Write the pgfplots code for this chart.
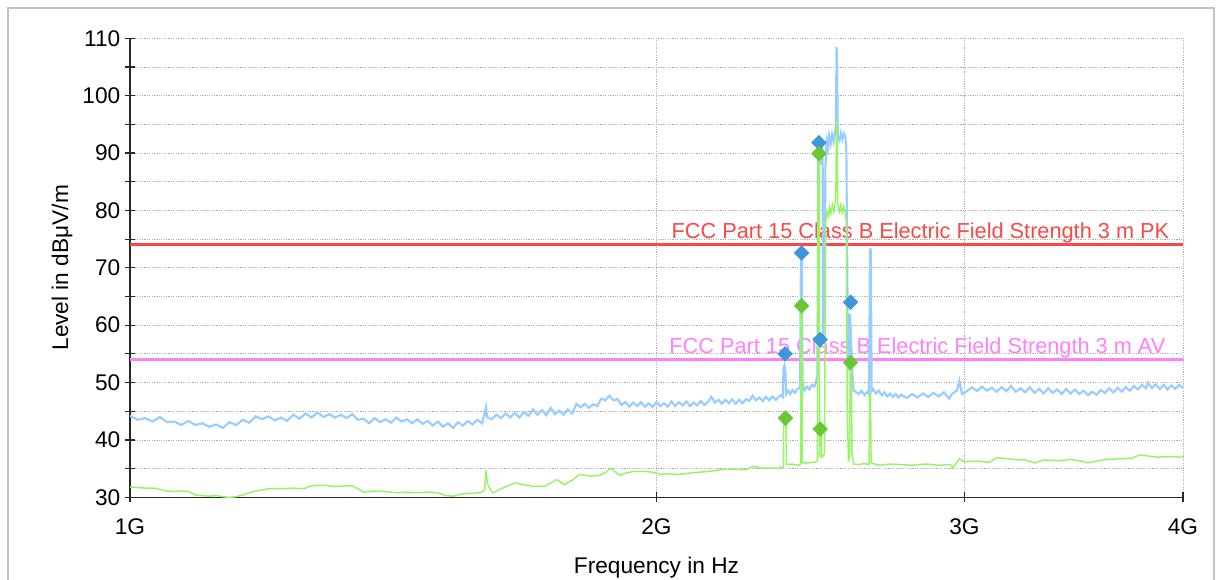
\documentclass[border=0pt]{standalone}
\usepackage{pgfplots}
\pgfplotsset{compat=1.18}
\usepackage{fontspec}
\setmainfont{Liberation Sans}
\definecolor{pkline}{RGB}{153,204,255}
\definecolor{avline}{RGB}{150,245,100}
\definecolor{pkmark}{RGB}{63,150,220}
\definecolor{avmark}{RGB}{102,200,51}
\definecolor{limpk}{RGB}{255,70,70}
\definecolor{limav}{RGB}{255,128,255}
\definecolor{gridc}{RGB}{175,175,175}
\definecolor{framec}{RGB}{195,195,195}
\definecolor{axc}{RGB}{40,40,40}

\pgfplotstableread{
f lev
1.00 44.2
1.01 43.5
1.02 43.8
1.03 43.2
1.04 44.0
1.05 43.1
1.06 43.2
1.07 42.6
1.08 43.3
1.09 42.6
1.10 42.9
1.11 42.3
1.12 42.7
1.13 42.1
1.14 43.1
1.15 42.6
1.16 43.5
1.17 43.0
1.18 44.1
1.19 43.6
1.20 44.1
1.21 43.4
1.22 43.9
1.23 43.3
1.24 44.4
1.25 43.7
1.26 44.6
1.27 43.9
1.28 44.8
1.29 44.0
1.30 44.5
1.31 43.9
1.32 44.4
1.33 43.8
1.34 44.5
1.35 43.5
1.36 43.7
1.37 42.9
1.38 43.8
1.39 43.1
1.40 43.6
1.41 43.0
1.42 43.9
1.43 43.2
1.44 43.6
1.45 42.9
1.46 43.6
1.47 42.8
1.48 43.3
1.49 42.5
1.50 43.2
1.51 42.3
1.52 42.9
1.53 42.1
1.54 43.1
1.55 42.5
1.56 43.3
1.57 42.7
1.58 43.5
1.59 42.9
1.598 45.7
1.60 44.0
1.61 43.6
1.62 44.4
1.63 43.8
1.64 44.6
1.65 43.9
1.66 44.7
1.67 43.9
1.68 44.9
1.69 44.2
1.70 45.3
1.71 44.4
1.72 45.2
1.73 44.3
1.74 45.6
1.75 44.5
1.76 45.1
1.77 44.4
1.78 45.3
1.79 44.6
1.80 46.3
1.81 45.7
1.82 46.3
1.83 45.6
1.84 46.2
1.85 45.9
1.86 47.2
1.87 46.9
1.88 47.7
1.89 46.9
1.90 47.1
1.91 46.1
1.92 46.6
1.93 45.8
1.94 46.5
1.95 45.9
1.96 46.6
1.97 45.8
1.98 46.4
1.99 45.7
2.00 46.6
2.01 45.9
2.02 46.4
2.03 45.8
2.04 46.7
2.05 45.9
2.06 46.6
2.07 46.0
2.08 46.7
2.09 45.9
2.10 46.5
2.11 46.0
2.12 46.8
2.13 46.1
2.14 46.6
2.15 47.5
2.16 46.5
2.17 47.0
2.18 46.3
2.19 47.0
2.20 46.4
2.21 47.1
2.22 46.3
2.23 47.0
2.24 46.4
2.25 47.1
2.26 46.8
2.27 47.7
2.28 46.9
2.29 47.4
2.30 46.8
2.31 47.5
2.32 46.9
2.33 47.6
2.34 47.0
2.355 47.8
2.362 47.5
2.364 52.5
2.367 53.0
2.370 52.0
2.372 48.0
2.378 48.6
2.385 48.0
2.392 48.7
2.400 48.2
2.408 48.9
2.416 49.0
2.419 72.6
2.422 72.0
2.424 50.0
2.430 48.6
2.438 49.3
2.446 48.8
2.454 49.6
2.462 49.3
2.468 50.2
2.472 51.5
2.475 91.8
2.481 91.6
2.483 88.0
2.486 91.0
2.489 90.5
2.491 58.0
2.495 62.0
2.498 87.5
2.502 92.0
2.506 90.8
2.510 93.0
2.515 91.6
2.520 93.2
2.525 92.0
2.530 93.6
2.533 95.0
2.535 108.5
2.537 106.0
2.539 93.0
2.545 92.2
2.550 93.5
2.555 92.4
2.560 93.4
2.565 92.6
2.568 90.0
2.571 70.0
2.574 52.0
2.577 53.5
2.580 62.0
2.583 59.0
2.586 55.0
2.589 50.5
2.593 48.6
2.597 48.5
2.61 48.0
2.62 48.6
2.63 47.8
2.64 48.4
2.646 48.0
2.649 73.2
2.652 73.2
2.655 48.5
2.66 48.9
2.67 48.1
2.68 48.6
2.69 47.8
2.70 48.3
2.71 47.6
2.72 48.1
2.73 47.5
2.74 48.0
2.75 47.4
2.76 47.9
2.78 47.3
2.80 48.0
2.82 47.4
2.84 48.1
2.86 47.5
2.88 48.2
2.90 47.6
2.92 48.3
2.94 47.2
2.95 48.0
2.97 48.6
2.98 50.3
2.99 48.0
3.01 48.5
3.03 49.2
3.05 48.5
3.07 49.3
3.09 48.6
3.11 49.1
3.13 48.4
3.15 49.2
3.17 48.5
3.19 49.4
3.21 48.4
3.23 49.0
3.25 48.3
3.27 49.2
3.29 48.2
3.31 48.9
3.33 48.1
3.35 49.0
3.37 48.2
3.39 48.8
3.41 48.0
3.43 48.9
3.45 48.1
3.47 48.8
3.49 48.0
3.51 48.6
3.53 47.8
3.55 48.4
3.57 47.9
3.59 48.7
3.61 48.2
3.63 49.0
3.65 48.3
3.67 49.1
3.69 48.4
3.71 49.2
3.73 48.6
3.75 49.4
3.77 48.8
3.79 49.6
3.81 49.0
3.82 50.0
3.84 49.0
3.86 49.7
3.88 48.9
3.90 49.6
3.92 48.8
3.94 49.5
3.96 48.9
3.98 49.6
4.00 49.1
}\pktrace

\pgfplotstableread{
f lev
1.00 31.8
1.01 31.7
1.02 31.6
1.03 31.6
1.04 31.4
1.05 31.1
1.06 31.0
1.07 31.1
1.08 31.0
1.09 30.4
1.10 30.3
1.11 30.2
1.12 30.3
1.13 30.1
1.14 30.0
1.15 30.1
1.16 30.4
1.17 30.8
1.18 31.1
1.19 31.3
1.20 31.5
1.22 31.5
1.24 31.6
1.257 31.5
1.27 32.0
1.29 32.1
1.31 31.9
1.33 32.0
1.34 32.0
1.35 31.5
1.36 30.9
1.38 31.1
1.40 31.0
1.42 30.8
1.44 30.9
1.46 30.8
1.48 30.9
1.50 30.8
1.515 30.3
1.53 30.2
1.55 30.6
1.57 30.7
1.585 30.8
1.595 31.2
1.598 34.7
1.601 32.4
1.608 31.2
1.613 30.8
1.63 31.5
1.66 32.5
1.68 32.2
1.70 31.9
1.727 31.9
1.74 32.5
1.754 33.1
1.772 32.2
1.79 33.0
1.808 34.0
1.83 33.7
1.855 33.8
1.87 34.3
1.883 35.1
1.895 34.4
1.906 33.8
1.92 34.2
1.94 34.5
1.97 34.5
1.99 34.4
2.01 34.0
2.03 34.1
2.06 34.0
2.10 34.3
2.14 34.5
2.175 34.8
2.21 34.9
2.25 34.8
2.27 35.4
2.30 35.1
2.35 35.1
2.362 35.3
2.364 35.3
2.365 43.8
2.372 43.8
2.373 35.7
2.390 35.8
2.410 35.6
2.418 35.7
2.419 63.4
2.422 63.4
2.423 36.0
2.440 36.0
2.460 36.1
2.472 36.3
2.474 89.9
2.478 89.9
2.479 37.0
2.480 41.9
2.484 41.9
2.486 37.0
2.495 37.5
2.499 78.0
2.503 79.8
2.508 79.0
2.512 80.5
2.516 79.4
2.521 81.0
2.526 79.8
2.530 81.2
2.533 84.0
2.535 96.0
2.537 94.0
2.539 81.0
2.544 79.8
2.549 81.0
2.554 79.6
2.559 80.8
2.564 79.5
2.568 78.0
2.571 45.0
2.575 36.5
2.579 37.0
2.581 53.5
2.585 53.5
2.587 37.5
2.593 35.8
2.610 35.7
2.630 35.9
2.646 35.7
2.648 48.0
2.651 48.0
2.653 36.0
2.680 35.6
2.720 35.8
2.759 35.7
2.80 35.6
2.85 35.8
2.90 35.6
2.946 35.7
2.955 35.1
2.98 36.7
3.00 36.2
3.05 36.3
3.10 36.1
3.13 36.9
3.16 36.8
3.20 36.6
3.25 36.5
3.29 36.0
3.33 36.5
3.40 36.4
3.45 36.6
3.50 36.3
3.53 36.0
3.57 36.3
3.62 36.6
3.68 36.7
3.74 36.8
3.78 37.4
3.82 37.2
3.87 37.0
3.93 37.1
4.00 37.0
}\avtrace

\pgfplotstableread{
f lev
2.369 55.0
2.421 72.6
2.477 91.8
2.481 57.5
2.582 64.0
}\pkmarks

\pgfplotstableread{
f lev
2.370 43.8
2.421 63.4
2.477 89.9
2.481 41.9
2.582 53.5
}\avmarks

\begin{document}
\begin{tikzpicture}
\useasboundingbox (-97.5pt,-61.275pt) rectangle (814.5pt,372.975pt);
\begin{scope}
\clip (-97.5pt,-61.275pt) rectangle (814.5pt,372.975pt);
\draw[line width=0.8pt, framec] (-91.5pt,366.975pt) rectangle (813pt,-90pt);
\end{scope}
\begin{axis}[
  at={(0pt,0pt)}, anchor=south west,
  scale only axis, width=789.75pt, height=344.25pt,
  xmode=log, xmin=1, xmax=4, ymin=30, ymax=110,
  xtick={1,2,3,4}, xticklabels={1G,2G,3G,4G}, minor xtick={},
  ytick={30,40,...,110}, minor ytick={35,45,...,105},
  axis x line*=bottom, axis y line*=left,
  axis line style={-, axc, line width=0.9pt},
  every tick/.style={axc, line width=0.9pt},
  tick align=center, major tick length=7.5pt, minor tick length=7.5pt,
  xmajorgrids, ymajorgrids, yminorgrids,
  major grid style={gridc, line width=0.6pt, dash pattern=on 0.9pt off 0.9pt},
  minor grid style={gridc, line width=0.6pt, dash pattern=on 0.9pt off 0.9pt},
  /pgf/number format/assume math mode=true,
  tick label style={font=\fontsize{17}{19}\selectfont, black},
  xticklabel style={yshift=-9pt},
  label style={font=\fontsize{17}{19}\selectfont, black},
  xlabel={Frequency in Hz},
  ylabel={Level in dBμV/m},
  xlabel style={at={(axis description cs:0.5,-0.1525)}, anchor=center},
  ylabel style={at={(axis description cs:-0.0646,0.5)}, anchor=center},
  clip=true,
]
\addplot[limpk, line width=2.2pt, forget plot] coordinates {(1,74) (4,74)};
\addplot[limav, line width=2.2pt, forget plot] coordinates {(1,54) (4,54)};
\node[limpk, anchor=base east, font=\fontsize{16.3}{18}\selectfont, inner sep=0pt] at (axis cs:3.93,75.1) {FCC Part 15 Class B Electric Field Strength 3 m PK};
\node[limav, anchor=base east, font=\fontsize{16.3}{18}\selectfont, inner sep=0pt] at (axis cs:3.91,55.1) {FCC Part 15 Class B Electric Field Strength 3 m AV};
\addplot[pkline, line width=1.6pt] table[x=f, y=lev] {\pktrace};
\addplot[avline, line width=1.1pt] table[x=f, y=lev] {\avtrace};
\addplot[only marks, mark=square*, mark size=3.9pt, mark options={rotate=45, fill=pkmark, draw=pkmark}] table[x=f, y=lev] {\pkmarks};
\addplot[only marks, mark=square*, mark size=3.9pt, mark options={rotate=45, fill=avmark, draw=avmark}] table[x=f, y=lev] {\avmarks};
\end{axis}
\end{tikzpicture}
\end{document}
